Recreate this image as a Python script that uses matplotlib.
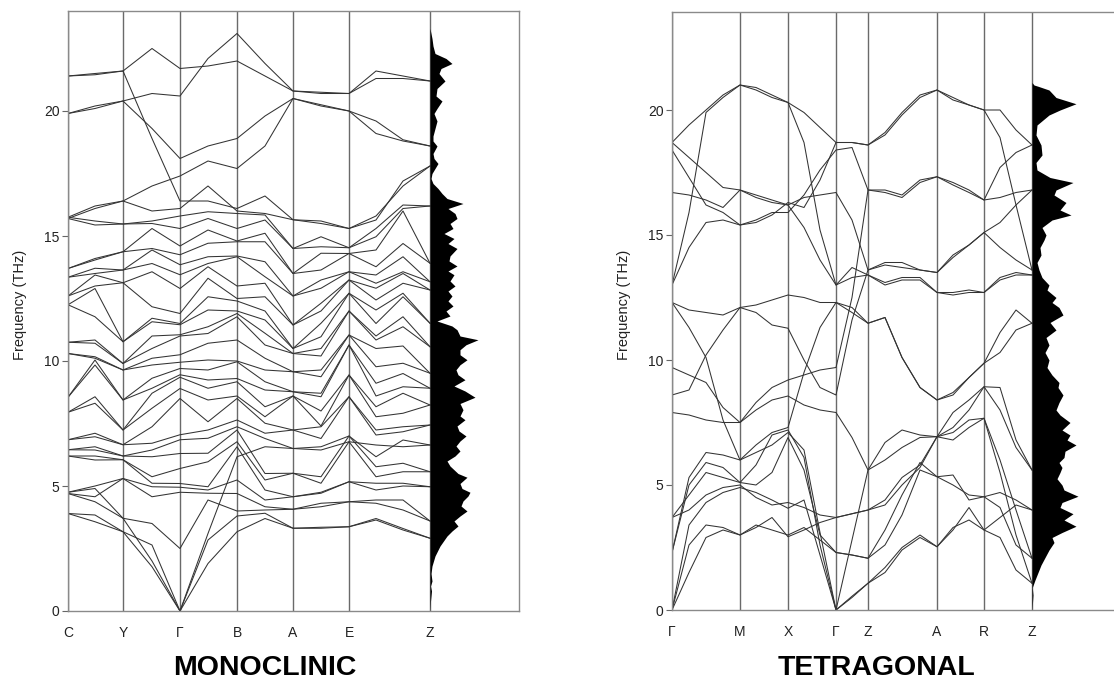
import numpy as np
import matplotlib
matplotlib.use('Agg')
import matplotlib.pyplot as plt

plt.rcParams['font.family'] = ['Liberation Sans', 'DejaVu Sans']

# ---------------- monoclinic ----------------
mono_labels = ['C', 'Y', 'Γ', 'B', 'A', 'E', 'Z']
mono_ticks = [0, 55, 112, 169, 225, 281, 362]
mono_x = [0, 27, 55, 84, 112, 140, 169, 197, 225, 253, 281, 308, 335, 362]

# branches followed one by one (THz at each column of mono_x)
mono_tracked = [
    [21.4, 21.5, 21.6, 22.5, 21.7, 21.8, 22.0, 21.4, 20.8, 20.75, 20.7, 21.6, 21.4, 21.2],
    [19.9, 20.1, 20.4, 20.7, 20.6, 22.1, 23.1, 21.9, 20.8, 20.7, 20.7, 21.3, 21.3, 21.2],
    [21.4, 21.45, 21.6, 18.9, 16.4, 16.4, 16.1, 16.6, 15.65, 15.5, 15.3, 15.8, 17.0, 17.8],
    [19.9, 20.2, 20.4, 19.3, 18.1, 18.6, 18.9, 19.8, 20.5, 20.25, 20.0, 19.6, 18.85, 18.6],
    [15.7, 16.1, 16.4, 17.0, 17.4, 18.0, 17.7, 18.6, 20.5, 20.2, 20.0, 19.1, 18.8, 18.6],
    [4.75, 4.9, 3.71, 2.0, 0.0, 3.1, 6.17, 6.57, 6.5, 6.44, 6.77, 6.64, 6.57, 6.64],
]

# remaining branches: all frequencies crossing each column
mono_cols = [
    [3.9, 3.9, 4.7, 4.7, 4.75, 6.2, 6.2, 6.45, 6.45, 6.85, 6.85, 7.95, 7.95, 8.55, 8.55,
     10.3, 10.3, 10.75, 10.75, 12.25, 12.25, 12.6, 12.6, 13.35, 13.35, 13.7, 13.7, 15.7, 15.75, 15.75],
    [3.57, 3.84, 4.37, 4.57, 5.0, 6.04, 6.2, 6.44, 6.57, 6.97, 7.11, 8.31, 8.57, 9.84, 10.04,
     10.11, 10.17, 10.71, 10.84, 11.77, 12.9, 13.0, 13.44, 13.5, 13.71, 14.04, 14.1, 15.44, 15.6, 16.2],
    [3.17, 3.17, 3.71, 5.3, 5.3, 6.05, 6.05, 6.2, 6.2, 6.65, 6.65, 7.24, 7.24, 8.44, 8.44,
     9.64, 9.64, 9.9, 9.9, 10.77, 10.77, 13.13, 13.13, 13.64, 13.64, 14.37, 14.37, 15.48, 15.48, 16.4],
    [1.77, 2.64, 3.5, 4.57, 4.97, 5.11, 5.37, 6.17, 6.44, 6.71, 7.37, 8.11, 8.71, 8.91, 9.31,
     9.84, 10.11, 10.5, 11.0, 11.57, 11.71, 12.17, 13.57, 13.9, 14.44, 14.5, 15.3, 15.5, 15.6, 16.0],
    [0.0, 0.0, 2.5, 4.75, 4.95, 5.1, 5.7, 6.3, 6.85, 7.05, 8.5, 8.9, 9.35, 9.45, 9.7,
     9.95, 10.25, 11.0, 11.05, 11.45, 11.5, 11.9, 12.9, 13.45, 13.85, 14.25, 14.6, 15.3, 15.8, 16.1],
    [1.9, 2.84, 4.44, 4.71, 4.84, 4.97, 5.97, 6.31, 6.91, 7.24, 7.57, 8.44, 8.91, 9.24, 9.64,
     10.04, 10.71, 11.1, 11.37, 12.04, 12.57, 13.31, 13.77, 13.9, 14.17, 14.71, 15.24, 15.7, 15.97, 17.0],
    [3.17, 3.8, 4.0, 4.7, 5.24, 6.57, 6.77, 7.24, 7.37, 7.64, 8.5, 8.6, 9.17, 9.3, 9.97,
     10.0, 10.84, 11.77, 11.9, 12.0, 12.4, 12.5, 13.0, 14.17, 14.2, 14.77, 14.8, 15.3, 15.9, 16.0],
    [3.7, 3.91, 4.04, 4.17, 4.44, 4.84, 5.24, 5.5, 6.9, 7.11, 7.51, 7.77, 8.17, 8.84, 9.17,
     9.64, 10.11, 10.64, 11.11, 11.64, 12.0, 12.57, 13.11, 13.37, 13.97, 14.77, 15.11, 15.64, 15.84, 15.9],
    [3.31, 3.31, 4.07, 4.07, 4.57, 4.57, 5.51, 5.51, 6.5, 7.24, 7.24, 8.6, 8.6, 8.77, 8.77,
     9.57, 9.57, 10.3, 10.3, 10.5, 10.5, 11.44, 11.44, 12.6, 12.6, 13.5, 13.5, 14.5, 14.5, 15.65],
    [3.31, 3.35, 4.17, 4.31, 4.71, 4.75, 5.11, 5.37, 6.57, 6.9, 7.37, 7.4, 8.0, 8.57, 8.71,
     9.37, 9.64, 10.2, 10.5, 10.97, 11.51, 12.0, 12.31, 12.91, 13.24, 13.64, 14.31, 14.57, 14.97, 15.6],
    [3.37, 3.37, 4.37, 4.37, 5.17, 5.17, 6.77, 7.0, 7.0, 8.57, 8.57, 9.44, 9.44, 10.64, 10.64,
     11.04, 11.04, 12.0, 12.0, 12.71, 12.71, 13.24, 13.24, 13.57, 13.57, 14.3, 14.3, 14.53, 14.53, 15.3],
    [3.64, 3.7, 4.31, 4.44, 4.84, 5.11, 5.37, 5.77, 6.17, 7.04, 7.24, 7.77, 8.17, 8.6, 9.11,
     9.77, 10.5, 10.84, 11.0, 11.5, 12.04, 12.44, 12.91, 13.11, 13.44, 13.77, 14.44, 14.97, 15.3, 15.64],
    [3.24, 3.3, 4.04, 4.44, 5.0, 5.11, 5.57, 5.91, 6.84, 7.17, 7.37, 7.91, 8.71, 8.97, 9.5,
     9.91, 10.6, 11.37, 11.77, 12.57, 12.71, 13.11, 13.5, 13.57, 14.17, 14.7, 16.0, 16.1, 16.24, 17.2],
    [2.91, 2.91, 3.6, 3.6, 4.97, 4.97, 5.57, 5.57, 6.64, 7.44, 7.44, 8.24, 8.24, 8.91, 8.91,
     9.51, 9.51, 10.57, 10.57, 11.51, 11.51, 12.84, 12.84, 13.17, 13.17, 13.91, 13.91, 16.2, 16.2, 17.8],
]

mono_dos_f = [0.0, 0.4, 0.8, 1.0, 1.2, 1.5, 1.8, 2.2, 2.6, 3.0, 3.2, 3.4, 3.6, 3.8, 4.0, 4.2, 4.4,
              4.6, 4.75, 4.9, 5.1, 5.35, 5.5, 5.8, 6.0, 6.2, 6.4, 6.6, 6.8, 7.0, 7.2, 7.4, 7.65,
              7.8, 8.05, 8.3, 8.55, 8.8, 9.0, 9.25, 9.45, 9.65, 9.85, 10.05, 10.25, 10.45, 10.65,
              10.85, 11.0, 11.25, 11.4, 11.6, 11.8, 12.0, 12.2, 12.4, 12.6, 12.8, 13.0, 13.2,
              13.45, 13.6, 13.8, 14.0, 14.2, 14.5, 14.7, 14.9, 15.1, 15.3, 15.5, 15.7, 15.9, 16.1,
              16.3, 16.5, 16.7, 16.9, 17.1, 17.3, 17.5, 17.7, 17.9, 18.1, 18.3, 18.6, 18.8, 19.0,
              19.3, 19.6, 19.9, 20.1, 20.4, 20.6, 20.9, 21.2, 21.5, 21.7, 21.9, 22.1, 22.3, 22.6,
              22.9, 23.1, 23.3]
mono_dos = [0, 0.5, 1.5, 0.5, 2, 1, 2, 5, 10, 17, 22, 28, 24, 30, 37, 31, 33,
            38, 40, 32, 30, 37, 28, 20, 17, 25, 30, 26, 30, 36, 29, 27, 35,
            30, 33, 30, 45, 35, 24, 35, 28, 26, 30, 37, 30, 30, 36,
            48, 30, 27, 22, 7, 20, 16, 23, 18, 22, 18, 25, 20,
            24, 18, 27, 19, 20, 27, 18, 24, 14, 23, 20, 27, 25, 18,
            33, 17, 12, 8, 3, 1, 2, 5, 8, 4, 3, 7, 3, 3,
            5, 7, 4, 7, 12, 6, 7, 15, 9, 11, 22, 16, 5, 3,
            2, 1, 0]

# ---------------- tetragonal ----------------
tet_labels = ['Γ', 'M', 'X', 'Γ', 'Z', 'A', 'R', 'Z']
tet_ticks = [0, 68, 116, 164, 196, 265, 312, 360]
tet_x = [0, 17, 34, 51, 68, 84, 100, 116, 132, 148, 164, 180, 196,
         213, 230, 248, 265, 281, 297, 312, 328, 344, 360]

tet_bands = [
    [0, 1.5, 2.9, 3.2, 3.0, 3.3, 3.7, 2.93, 3.2, 3.5, 3.7, 3.85, 4.0, 4.2, 5.0, 5.7, 6.93, 6.8, 7.3, 7.67, 5.5, 3.0, 1.07],
    [0, 2.6, 3.4, 3.3, 3.0, 3.4, 3.2, 3.0, 3.3, 2.8, 2.3, 2.2, 2.07, 3.2, 4.6, 5.9, 5.33, 5.4, 4.4, 4.53, 4.1, 2.6, 2.07],
    [0, 3.4, 4.3, 4.7, 4.9, 4.7, 4.4, 4.07, 4.4, 2.2, 0, 0.5, 1.07, 1.5, 2.4, 2.9, 2.53, 3.2, 4.1, 3.2, 2.9, 1.6, 1.07],
    [2.3, 5.3, 6.3, 6.2, 6.0, 6.3, 6.6, 7.1, 6.4, 3.1, 0, 2.8, 5.6, 6.0, 6.5, 6.9, 6.93, 7.3, 8.0, 8.93, 8.0, 6.5, 5.6],
    [2.3, 5.0, 5.9, 5.7, 5.1, 5.8, 7.0, 7.2, 6.1, 2.6, 0, 0.55, 1.07, 1.7, 2.5, 3.0, 2.53, 3.3, 3.6, 3.2, 3.7, 4.2, 4.0],
    [3.7, 4.0, 4.6, 4.9, 5.0, 4.5, 4.2, 4.3, 4.1, 3.8, 3.7, 3.85, 4.0, 4.4, 5.3, 5.8, 6.93, 7.1, 7.6, 7.67, 6.0, 4.0, 2.07],
    [3.7, 4.6, 5.5, 5.3, 5.1, 5.0, 5.5, 6.9, 5.6, 3.0, 2.3, 2.2, 2.07, 2.6, 3.8, 5.6, 5.33, 5.0, 4.6, 4.53, 4.7, 4.4, 4.0],
    [7.9, 7.8, 7.6, 7.5, 7.5, 8.0, 8.4, 8.56, 8.2, 8.0, 7.9, 6.9, 5.6, 6.7, 7.2, 7.0, 6.93, 7.9, 8.4, 8.93, 8.9, 6.8, 5.6],
    [8.6, 8.8, 10.2, 11.2, 12.1, 11.9, 11.4, 11.27, 10.0, 8.9, 8.6, 11.6, 13.6, 13.8, 13.7, 13.6, 13.5, 14.1, 14.6, 15.1, 14.5, 14.0, 13.6],
    [9.7, 9.4, 9.1, 8.1, 7.5, 8.3, 8.9, 9.2, 9.4, 9.6, 9.7, 12.5, 16.8, 16.8, 16.6, 17.2, 17.33, 17.1, 16.8, 16.4, 16.5, 16.7, 16.8],
    [12.3, 11.3, 10.1, 7.6, 6.0, 6.6, 7.1, 7.3, 9.5, 11.3, 12.3, 11.9, 11.47, 11.7, 10.1, 8.9, 8.4, 8.6, 9.3, 9.87, 10.3, 11.2, 11.47],
    [12.3, 12.0, 11.9, 11.8, 12.1, 12.2, 12.4, 12.6, 12.5, 12.3, 12.3, 12.1, 11.47, 11.7, 10.1, 8.9, 8.4, 8.7, 9.3, 9.87, 11.1, 12.0, 11.47],
    [13.0, 15.9, 19.9, 20.5, 21.0, 20.9, 20.6, 20.3, 18.7, 15.2, 13.0, 13.3, 13.4, 13.0, 13.2, 13.2, 12.7, 12.6, 12.7, 12.7, 13.2, 13.4, 13.4],
    [13.0, 14.5, 15.5, 15.6, 15.4, 15.5, 15.8, 16.3, 16.1, 17.2, 18.7, 18.7, 18.6, 19.0, 19.8, 20.5, 20.8, 20.4, 20.2, 20.0, 20.0, 19.2, 18.6],
    [16.7, 16.6, 16.4, 16.1, 16.8, 16.6, 16.4, 16.2, 15.3, 14.0, 13.0, 13.7, 13.4, 13.1, 13.3, 13.3, 12.7, 12.7, 12.8, 12.7, 13.3, 13.5, 13.4],
    [18.4, 17.3, 16.2, 15.9, 15.4, 15.6, 15.9, 15.9, 16.6, 17.6, 18.4, 18.5, 16.8, 16.7, 16.5, 17.1, 17.33, 17.0, 16.7, 16.4, 17.7, 18.3, 18.6],
    [18.7, 18.1, 17.5, 16.9, 16.8, 16.5, 16.3, 16.2, 16.5, 16.6, 16.7, 15.6, 13.6, 13.9, 13.9, 13.6, 13.5, 14.2, 14.6, 15.1, 15.5, 16.2, 16.8],
    [18.7, 19.4, 20.0, 20.6, 21.0, 20.8, 20.5, 20.3, 19.9, 19.3, 18.7, 18.7, 18.6, 19.1, 19.9, 20.6, 20.8, 20.5, 20.2, 20.0, 18.9, 16.2, 13.6],
]

tet_dos_f = [0.0, 0.3, 0.6, 0.9, 1.2, 1.5, 1.8, 2.1, 2.4, 2.7, 2.9, 3.1, 3.35, 3.6, 3.85, 4.1, 4.3,
             4.55, 4.8, 5.0, 5.25, 5.5, 5.7, 5.9, 6.1, 6.35, 6.6, 6.8, 7.0, 7.2, 7.5, 7.8, 8.0,
             8.3, 8.6, 8.9, 9.1, 9.4, 9.7, 10.0, 10.3, 10.6, 10.9, 11.2, 11.5, 11.8, 12.1, 12.3,
             12.5, 12.8, 13.0, 13.3, 13.6, 13.9, 14.2, 14.5, 14.8, 15.0, 15.3, 15.6, 15.8, 16.0,
             16.3, 16.6, 16.8, 17.1, 17.3, 17.6, 17.9, 18.2, 18.6, 19.0, 19.4, 19.8, 20.0, 20.25,
             20.5, 20.8, 20.95, 21.0, 21.1]
tet_dos = [0, 0.5, 1, 0.3, 3, 6, 9, 13, 17, 22, 20, 30, 44, 32, 41, 28, 30,
           46, 32, 30, 25, 28, 30, 27, 32, 33, 44, 35, 38, 30, 38, 28, 24,
           27, 31, 26, 27, 20, 15, 17, 13, 17, 14, 24, 18, 31, 27, 20,
           24, 15, 17, 10, 7, 5, 9, 8, 12, 14, 10, 20, 39, 28,
           34, 22, 24, 41, 18, 5, 4, 10, 9, 4, 5, 17, 28, 44,
           24, 17, 6, 2, 0]

BAND_C = '#333333'
VLINE_C = '#6a6a6a'
SPINE_C = '#8a8a8a'
W, H = 1114, 691


def setup_axes(ax, ticks, labels, width_px):
    for t in ticks:
        ax.axvline(t, color=VLINE_C, lw=1.0, zorder=1)
    for s in ax.spines.values():
        s.set_color(SPINE_C)
        s.set_linewidth(1.0)
    ax.set_xticks(ticks)
    ax.set_xticklabels(labels)
    ax.tick_params(axis='x', length=0, pad=11, labelsize=10, labelcolor='#222222')
    ax.set_yticks([0, 5, 10, 15, 20])
    ax.tick_params(axis='y', length=4, width=0.8, color='#666666', pad=2,
                   labelsize=10, labelcolor='#222222')
    ax.set_ylabel('Frequency (THz)', fontsize=10.5, color='#222222')
    ax.yaxis.set_label_coords(-41 / width_px, 0.51)


fig = plt.figure(figsize=(W / 100, H / 100), dpi=100)

# left panel: monoclinic
axm = fig.add_axes([68 / W, 1 - 611 / H, 451 / W, 600 / H])
axm.set_xlim(0, 451)
axm.set_ylim(0, 24)
setup_axes(axm, mono_ticks, mono_labels, 451)
mono_sorted = np.sort(np.array(mono_cols), axis=1)
for b in range(mono_sorted.shape[1]):
    axm.plot(mono_x, mono_sorted[:, b], color=BAND_C, lw=0.75, zorder=2)
for band in mono_tracked:
    axm.plot(mono_x, band, color=BAND_C, lw=0.75, zorder=2)
axm.fill_betweenx(mono_dos_f, mono_ticks[-1], mono_ticks[-1] + np.array(mono_dos),
                  color='black', lw=0, zorder=3)

# right panel: tetragonal
axt = fig.add_axes([672 / W, 1 - 610 / H, 448 / W, 598 / H])
axt.set_xlim(0, 448)
axt.set_ylim(0, 598 / 25)
setup_axes(axt, tet_ticks, tet_labels, 448)
for band in tet_bands:
    axt.plot(tet_x, band, color=BAND_C, lw=0.75, zorder=2)
axt.fill_betweenx(tet_dos_f, tet_ticks[-1], tet_ticks[-1] + np.array(tet_dos),
                  color='black', lw=0, zorder=3)

fig.text(265 / W, 1 - 668 / H, 'MONOCLINIC', ha='center', va='center',
         fontsize=20.5, fontweight='bold')
fig.text(876 / W, 1 - 668 / H, 'TETRAGONAL', ha='center', va='center',
         fontsize=20.5, fontweight='bold')

fig.savefig('out.png', dpi=100)
